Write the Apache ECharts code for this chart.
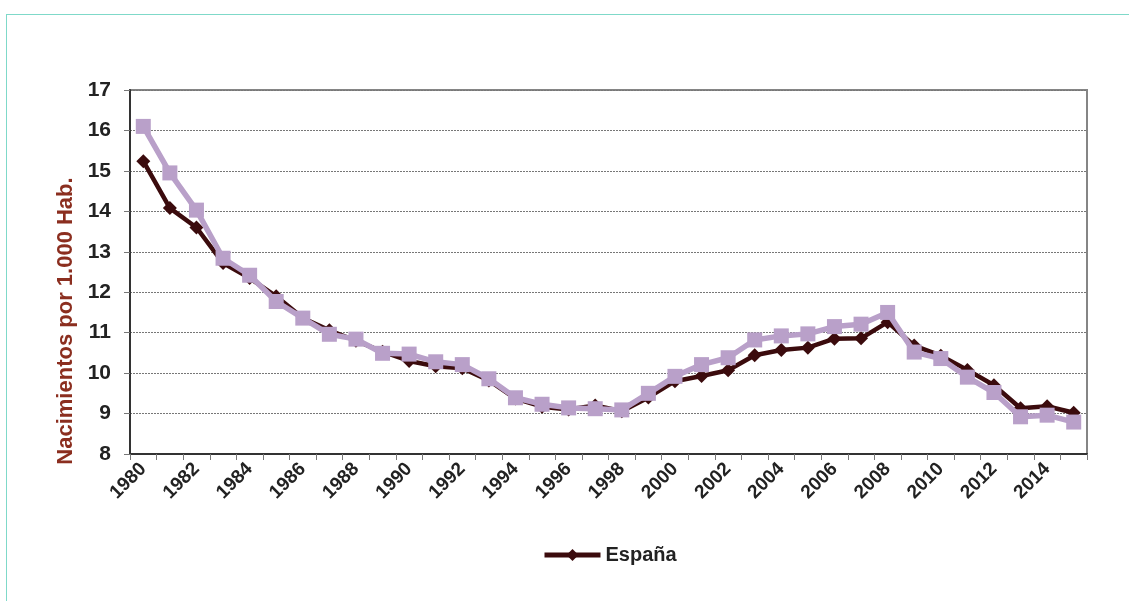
<!DOCTYPE html>
<html>
<head>
<meta charset="utf-8">
<script src="https://cdn.jsdelivr.net/npm/echarts@6/dist/echarts.min.js"></script>
<style>
html,body{margin:0;padding:0;background:#fff;}
#frame{position:absolute;left:6px;top:14px;width:1140px;height:600px;border:1px solid #7fd9c9;box-sizing:border-box;}
#chart{position:absolute;left:0;top:0;width:1129px;height:601px;}
</style>
</head>
<body>
<div id="frame"></div>
<div id="chart"></div>
<script>
const years = ['1980','1981','1982','1983','1984','1985','1986','1987','1988','1989','1990','1991','1992','1993','1994','1995','1996','1997','1998','1999','2000','2001','2002','2003','2004','2005','2006','2007','2008','2009','2010','2011','2012','2013','2014','2015'];
const espana = [15.24,14.08,13.60,12.72,12.35,11.90,11.36,11.06,10.80,10.53,10.30,10.17,10.12,9.82,9.37,9.17,9.10,9.20,9.06,9.40,9.80,9.93,10.07,10.44,10.57,10.63,10.85,10.86,11.26,10.68,10.43,10.08,9.70,9.13,9.18,9.02];
const region = [16.10,14.95,14.03,12.84,12.42,11.77,11.36,10.96,10.84,10.49,10.47,10.28,10.21,9.86,9.39,9.23,9.14,9.12,9.09,9.50,9.92,10.21,10.38,10.82,10.92,10.97,11.15,11.21,11.50,10.52,10.36,9.90,9.52,8.92,8.96,8.79];
const yName = 'Nacimientos por 1.000 Hab.';

const chart = echarts.init(document.getElementById('chart'));
const font = '"Liberation Sans", Arial, sans-serif';
chart.setOption({
  animation: false,
  textStyle: {fontFamily: font},
  grid: {left: 130, right: 42, top: 90, bottom: 147, show: true, borderColor: '#858585', borderWidth: 2, backgroundColor: 'transparent'},
  legend: {
    data: ['España'],
    bottom: 31,
    left: 537,
    itemWidth: 56,
    itemHeight: 15,
    itemGap: 6,
    lineStyle: {width: 5},
    textStyle: {fontFamily: font, fontWeight: 'bold', fontSize: 20, color: '#222'}
  },
  xAxis: {
    type: 'category',
    data: years,
    boundaryGap: true,
    axisLine: {show: true, lineStyle: {color: '#333', width: 2}},
    axisTick: {show: true, interval: 0, length: 6, lineStyle: {color: '#777', width: 1}},
    axisLabel: {interval: 1, rotate: 45, margin: 12, fontFamily: font, fontWeight: 'bold', fontSize: 19, color: '#222'},
    splitLine: {show: false}
  },
  yAxis: {
    type: 'value',
    min: 8, max: 17, interval: 1,
    name: yName,
    nameLocation: 'middle',
    nameGap: 50,
    nameTextStyle: {fontFamily: font, fontWeight: 'bold', fontSize: 22, color: '#8b2e1f', padding: [0, 98, 0, 0]},
    axisLine: {show: true, lineStyle: {color: '#333', width: 2}},
    axisTick: {show: true, length: 6, lineStyle: {color: '#777', width: 1}},
    axisLabel: {margin: 19, fontFamily: font, fontWeight: 'bold', fontSize: 21, color: '#222'},
    splitLine: {show: true, lineStyle: {color: '#777', width: 1, type: [2, 1]}}
  },
  series: [
    {
      name: 'España',
      type: 'line',
      data: espana,
      symbol: 'diamond',
      symbolSize: 14,
      z: 2,
      lineStyle: {color: '#3b0b0d', width: 4.5},
      itemStyle: {color: '#3b0b0d'}
    },
    {
      name: 'Región',
      type: 'line',
      data: region,
      symbol: 'rect',
      symbolSize: 15,
      z: 3,
      lineStyle: {color: '#b9a0c9', width: 5.5},
      itemStyle: {color: '#b9a0c9'}
    }
  ]
});
</script>
</body>
</html>
